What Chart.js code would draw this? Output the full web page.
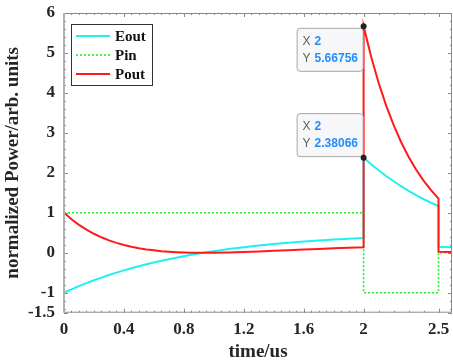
<!DOCTYPE html>
<html>
<head>
<meta charset="utf-8">
<script src="https://cdn.jsdelivr.net/npm/chart.js@4/dist/chart.umd.min.js"></script>
<style>
  html, body { margin: 0; padding: 0; background: #fff; }
  #wrap { width: 453px; height: 360px; }
</style>
</head>
<body>
<div id="wrap"><canvas id="chart" width="453" height="360"></canvas></div>
<script>
const timeRise = [0, 0.05, 0.1, 0.15, 0.2, 0.25, 0.3, 0.35, 0.4, 0.45, 0.5, 0.55, 0.6, 0.65, 0.7, 0.75, 0.8, 0.85, 0.9, 0.95, 1.0,
  1.1, 1.2, 1.3, 1.4, 1.5, 1.6, 1.7, 1.8, 1.9, 2.0];
const eoutRise = [-1, -0.916, -0.836, -0.76, -0.689, -0.622, -0.558, -0.498, -0.441, -0.388, -0.337, -0.289, -0.244, -0.201, -0.161,
  -0.123, -0.086, -0.052, -0.02, 0.01, 0.039, 0.092, 0.139, 0.181, 0.218, 0.252, 0.282, 0.308, 0.332, 0.353, 0.372];
const poutRise = [1, 0.839, 0.699, 0.578, 0.475, 0.387, 0.311, 0.248, 0.194, 0.151, 0.114, 0.084, 0.06, 0.04, 0.026,
  0.015, 0.007, 0.003, 0.0, 0.0, 0.002, 0.008, 0.019, 0.033, 0.048, 0.064, 0.08, 0.095, 0.11, 0.125, 0.138];

const timeFall = [2.0, 2.05, 2.1, 2.15, 2.2, 2.25, 2.3, 2.35, 2.4, 2.45, 2.5];
const eoutFall = [2.38066, 2.216, 2.063, 1.921, 1.789, 1.665, 1.55, 1.443, 1.344, 1.251, 1.165];
const poutFall = [5.66756, 4.911, 4.256, 3.69, 3.201, 2.772, 2.403, 2.082, 1.806, 1.565, 1.357];

const timeTail = [2.5, 2.59];
const eoutTail = [0.15, 0.14];
const poutTail = [0.022, 0.02];

const pinTimes = [0, 2, 2, 2.5, 2.5, 2.59];
const pinValues = [1, 1, -1, -1, 0, 0];

const tipPoints = [{ x: 2, y: 5.66756, box: "below" }, { x: 2, y: 2.38066, box: "above" }];

const xTicks = [0, 0.4, 0.8, 1.2, 1.6, 2, 2.5];
const yTicks = [-1.5, -1, 0, 1, 2, 3, 4, 5, 6];

const serif = '"Liberation Serif", "Times New Roman", serif';
const sans = '"Liberation Sans", Arial, sans-serif';

function zip(xs, ys) {
  return xs.map((x, i) => ({ x: x, y: ys[i] }));
}

const eoutData = zip(timeRise, eoutRise).concat(zip(timeFall, eoutFall), zip(timeTail, eoutTail));
const poutData = zip(timeRise, poutRise).concat(zip(timeFall, poutFall), zip(timeTail, poutTail));
const pinData = zip(pinTimes, pinValues);

// minor tick positions
const xMinor = [];
for (let v = 0; v < 2.001; v += 0.05) xMinor.push(+v.toFixed(2));
for (let v = 2.1; v < 2.591; v += 0.1) xMinor.push(+v.toFixed(2));
const yMinor = [];
for (let v = -1.4; v < 6.001; v += 0.2) yMinor.push(+v.toFixed(1));

const framePlugin = {
  id: "frame",
  afterDatasetsDraw(chart) {
    const { ctx, chartArea: a, scales } = chart;
    const xs = scales.x, ys = scales.y;
    ctx.save();
    ctx.strokeStyle = "#8a8a8a";
    ctx.lineWidth = 1;
    ctx.beginPath();
    xMinor.forEach((v) => {
      const p = Math.round(xs.getPixelForValue(v)) + 0.5;
      ctx.moveTo(p, a.bottom); ctx.lineTo(p, a.bottom - 2);
      ctx.moveTo(p, a.top); ctx.lineTo(p, a.top + 2);
    });
    yMinor.forEach((v) => {
      const p = Math.round(ys.getPixelForValue(v)) + 0.5;
      ctx.moveTo(a.left, p); ctx.lineTo(a.left + 2, p);
      ctx.moveTo(a.right, p); ctx.lineTo(a.right - 2, p);
    });
    xTicks.forEach((v) => {
      const p = Math.round(xs.getPixelForValue(v)) + 0.5;
      ctx.moveTo(p, a.bottom); ctx.lineTo(p, a.bottom - 4);
      ctx.moveTo(p, a.top); ctx.lineTo(p, a.top + 4);
    });
    yTicks.forEach((v) => {
      const p = Math.round(ys.getPixelForValue(v)) + 0.5;
      ctx.moveTo(a.left, p); ctx.lineTo(a.left + 4, p);
      ctx.moveTo(a.right, p); ctx.lineTo(a.right - 4, p);
    });
    ctx.stroke();
    ctx.strokeStyle = "#8a8a8a";
    ctx.strokeRect(a.left + 0.5, a.top + 0.5, a.right - a.left - 1, a.bottom - a.top - 1);
    ctx.strokeStyle = "#b0b0b0";
    ctx.lineWidth = 2;
    ctx.beginPath();
    ctx.moveTo(a.left, a.top); ctx.lineTo(a.left, a.bottom);
    ctx.stroke();
    ctx.restore();
  },
  afterDraw(chart) {
    const { ctx, chartArea: a, scales } = chart;
    ctx.save();

    // legend box
    const lx = a.left + 7, ly = a.top + 11, lw = 81, lh = 61;
    ctx.fillStyle = "#fff";
    ctx.fillRect(lx, ly, lw, lh);
    ctx.strokeStyle = "#333";
    ctx.lineWidth = 1;
    ctx.strokeRect(lx + 0.5, ly + 0.5, lw, lh);
    chart.data.datasets.forEach((ds, i) => {
      const y = ly + 12 + i * 19;
      ctx.strokeStyle = ds.borderColor;
      ctx.lineWidth = ds.borderWidth;
      ctx.setLineDash(ds.borderDash || []);
      ctx.beginPath();
      ctx.moveTo(lx + 5, y); ctx.lineTo(lx + 39, y);
      ctx.stroke();
      ctx.setLineDash([]);
      ctx.fillStyle = "#111";
      ctx.font = "bold 15px " + serif;
      ctx.textBaseline = "middle";
      ctx.textAlign = "left";
      ctx.fillText(ds.label, lx + 44, y + 1);
    });

    // data tips
    tipPoints.forEach((tp) => {
      const px = scales.x.getPixelForValue(tp.x);
      const py = scales.y.getPixelForValue(tp.y);
      const bw = 66, bh = 43;
      const bx = px - 1 - bw;
      const by = tp.box === "below" ? py + 1.5 : py - 1.5 - bh;
      ctx.fillStyle = "#f7f7fa";
      ctx.strokeStyle = "#a8a8a8";
      ctx.lineWidth = 1;
      ctx.beginPath();
      ctx.roundRect(bx + 0.5, by + 0.5, bw, bh, 3);
      ctx.fill();
      ctx.stroke();
      ctx.textBaseline = "middle";
      ctx.textAlign = "left";
      const rows = [["X", String(tp.x)], ["Y", String(tp.y)]];
      rows.forEach((r, i) => {
        const ty = by + 14 + i * 17;
        ctx.fillStyle = "#606060";
        ctx.font = "12px " + sans;
        ctx.fillText(r[0], bx + 6, ty);
        ctx.fillStyle = "#1f8fff";
        ctx.font = "bold 12px " + sans;
        ctx.fillText(r[1], bx + 18, ty);
      });
      ctx.fillStyle = "#222";
      ctx.beginPath();
      ctx.arc(px, py, 3, 0, Math.PI * 2);
      ctx.fill();
    });
    ctx.restore();
  },
};

new Chart(document.getElementById("chart"), {
  type: "line",
  data: {
    datasets: [
      { label: "Eout", data: eoutData, borderColor: "#1ff0f0", borderWidth: 2, order: 2 },
      { label: "Pin", data: pinData, borderColor: "#22ee22", borderWidth: 1.6, borderDash: [2, 2], order: 1 },
      { label: "Pout", data: poutData, borderColor: "#ff1a1a", borderWidth: 2, order: 0 },
    ],
  },
  options: {
    responsive: false,
    animation: false,
    events: [],
    layout: { padding: { top: 13, right: 1, left: 0, bottom: 0 } },
    elements: { point: { radius: 0 }, line: { tension: 0 } },
    plugins: { legend: { display: false }, tooltip: { enabled: false } },
    scales: {
      x: {
        type: "linear",
        min: 0,
        max: 2.59,
        afterBuildTicks: (s) => { s.ticks = xTicks.map((v) => ({ value: v })); },
        afterFit: (s) => {
          s.height = 47.3;
          s.paddingLeft = 0;
          s.paddingRight = 0;
        },
        grid: { display: false, drawTicks: false },
        border: { display: false },
        ticks: {
          padding: 7,
          color: "#262626",
          font: { family: serif, size: 17, weight: "bold" },
          callback: (v) => String(v),
        },
        title: {
          display: true,
          text: "time/us",
          color: "#262626",
          font: { family: serif, size: 19, weight: "bold", lineHeight: 1 },
          padding: { top: 0, bottom: -2 },
        },
      },
      y: {
        min: -1.5,
        max: 6,
        afterBuildTicks: (s) => { s.ticks = yTicks.map((v) => ({ value: v })); },
        afterFit: (s) => {
          s.width = 64;
          s.paddingTop = 0;
          s.paddingBottom = 0;
        },
        grid: { display: false, drawTicks: false },
        border: { display: false },
        ticks: {
          padding: 9,
          color: "#262626",
          font: { family: serif, size: 17, weight: "bold" },
          callback: (v) => String(v),
        },
        title: {
          display: true,
          text: "normalized Power/arb. units",
          color: "#262626",
          font: { family: serif, size: 19, weight: "bold", lineHeight: 1 },
          padding: { top: 4, bottom: 0 },
        },
      },
    },
  },
  plugins: [framePlugin],
});
</script>
</body>
</html>
